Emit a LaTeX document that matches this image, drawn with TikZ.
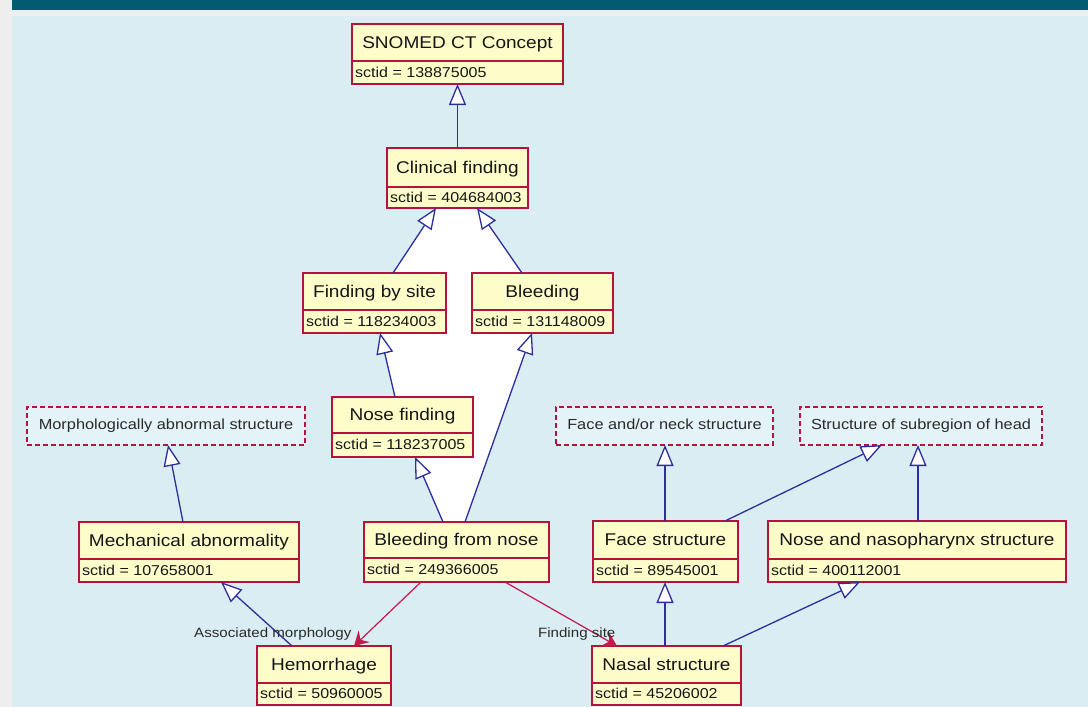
\documentclass[tikz,border=0pt]{standalone}
\usepackage{fontspec}
\setmainfont{Liberation Sans}[FakeStretch=1.12]
\usetikzlibrary{arrows.meta}

\definecolor{pagegray}{HTML}{EEEEEE}
\definecolor{barteal}{HTML}{035B71}
\definecolor{canvas}{HTML}{DAEDF3}
\definecolor{boxfill}{HTML}{FDFDC9}
\definecolor{boxred}{HTML}{B5123E}
\definecolor{absfill}{HTML}{E4F3F8}
\definecolor{genblue}{HTML}{2E2E9C}
\definecolor{assocred}{HTML}{C8184C}
\definecolor{txt}{HTML}{161616}
\definecolor{txtsoft}{HTML}{2A2A2A}

\tikzset{
  clsbox/.style={draw=boxred, fill=boxfill, line width=1.1pt, inner sep=0pt, outer sep=0pt},
  clsborder/.style={draw=boxred, line width=1.1pt},
  titletext/.style={font=\fontsize{17}{20}\selectfont, text=txt, inner sep=0pt,
    text height=0.72em, text depth=0pt},
  idtext/.style={font=\fontsize{14.3}{17}\selectfont, text=txt, inner sep=0pt,
    text height=0.72em, text depth=0pt},
  absbox/.style={draw=boxred, fill=absfill, dash pattern=on 5pt off 3pt, line width=1.1pt,
    inner sep=0pt, outer sep=0pt, font=\fontsize{14.6}{17}\selectfont, text=txtsoft,
    text height=0.72em, text depth=0pt},
  gen/.style={draw=genblue, line width=1.3pt,
    -{Triangle[length=21pt, width=17pt, fill=white, line join=miter]}},
  assoc/.style={draw=assocred, line width=1.2pt,
    -{Stealth[length=14pt, width=16pt, inset=5pt]}},
  rolelabel/.style={font=\fontsize{13.5}{16}\selectfont, text=txtsoft, inner sep=0pt,
    text height=0.72em, text depth=0.2em},
}

% class box with a name compartment and an sctid compartment
% #1 name, #2 left, #3 top, #4 right, #5 bottom, #6 divider, #7 title, #8 sctid
\newcommand\umlclass[8]{%
  \node[clsbox, minimum width={(#4-#2)*1pt}, minimum height={(#5-#3)*1pt}]
    (#1) at ({(#2+#4)/2},{(#3+#5)/2}) {};
  \draw[clsborder] (#2,#6) -- (#4,#6);
  \node[titletext] (#1-title) at ({(#2+#4)/2},{(#3+#6)/2+2}) {#7};
  \node[idtext, anchor=west] (#1-id) at ({#2+3},{(#6+#5)/2+1}) {#8};
}

% single-compartment dashed box
% #1 name, #2 left, #3 top, #4 right, #5 bottom, #6 text
\newcommand\umlref[6]{%
  \node[absbox, minimum width={(#4-#2)*1pt}, minimum height={(#5-#3)*1pt}]
    (#1) at ({(#2+#4)/2},{(#3+#5)/2}) {#6};
}

\begin{document}
\begin{tikzpicture}[x=1pt, y=-1pt]
\useasboundingbox (0,0) rectangle (1088,707);

% page, header bar and canvas
\fill[pagegray] (0,0) rectangle (1088,707);
\fill[barteal] (12,0) rectangle (1088,10);
\fill[canvas] (12,16) rectangle (1088,707);

% pale area enclosed by the finding hierarchy
\fill[white] (436,208) -- (393,273) -- (380,333) -- (395,397) -- (415,457)
  -- (443,522) -- (465,522) -- (532,333) -- (522,273) -- (477,208) -- cycle;

% concepts
\umlclass{snomed}{352}{24}{563}{84}{61}{SNOMED CT Concept}{sctid = 138875005}
\umlclass{cf}{387}{148}{528}{208}{187}{Clinical finding}{sctid = 404684003}
\umlclass{fbs}{303}{273}{446}{333}{310}{Finding by site}{sctid = 118234003}
\umlclass{bleed}{472}{273}{613}{333}{310}{Bleeding}{sctid = 131148009}
\umlclass{nf}{332}{397}{473}{457}{433}{Nose finding}{sctid = 118237005}
\umlclass{bfn}{364}{522}{549}{582}{558}{Bleeding from nose}{sctid = 249366005}
\umlclass{mech}{79}{522}{299}{582}{559}{Mechanical abnormality}{sctid = 107658001}
\umlclass{hem}{257}{646}{391}{705}{683}{Hemorrhage}{sctid = 50960005}
\umlclass{nasal}{592}{646}{741}{705}{683}{Nasal structure}{sctid = 45206002}
\umlclass{face}{593}{521}{738}{582}{559}{Face structure}{sctid = 89545001}
\umlclass{naso}{768}{521}{1066}{582}{559}{Nose and nasopharynx structure}{sctid = 400112001}

\umlref{morph}{27}{407}{305}{445}{Morphologically abnormal structure}
\umlref{faceneck}{556}{407}{773}{445}{Face and/or neck structure}
\umlref{subhead}{800}{407}{1042}{445}{Structure of subregion of head}

% is-a relations
\draw[gen] (cf.north) -- (snomed.south);
\draw[gen] ([xshift=90pt]fbs.north west) -- ([xshift=49pt]cf.south west);
\draw[gen] ([xshift=50pt]bleed.north west) -- ([xshift=90pt]cf.south west);
\draw[gen] ([xshift=63pt]nf.north west) -- ([xshift=77pt]fbs.south west);
\draw[gen] ([xshift=79pt]bfn.north west) -- ([xshift=83pt]nf.south west);
\draw[gen] ([xshift=101pt]bfn.north west) -- ([xshift=60pt]bleed.south west);
\draw[gen] ([xshift=104pt]mech.north west) -- ([xshift=141pt]morph.south west);
\draw[gen] ([xshift=35pt]hem.north west) -- ([xshift=142pt]mech.south west);
\draw[gen] ([xshift=72pt]face.north west) -- ([xshift=109pt]faceneck.south west);
\draw[gen] ([xshift=132pt]face.north west) -- ([xshift=82pt]subhead.south west);
\draw[gen] ([xshift=150pt]naso.north west) -- ([xshift=118pt]subhead.south west);
\draw[gen] ([xshift=73pt]nasal.north west) -- ([xshift=72pt]face.south west);
\draw[gen] ([xshift=131pt]nasal.north west) -- ([xshift=92pt]naso.south west);

% attribute relations
\draw[assoc] ([xshift=57pt]bfn.south west) -- ([xshift=97pt]hem.north west)
  node[rolelabel, at end, anchor=east, xshift=-2pt, yshift=11pt] (amlabel) {Associated morphology};
\draw[assoc] ([xshift=141pt]bfn.south west) -- ([xshift=25pt]nasal.north west)
  node[rolelabel, at end, anchor=east, xshift=-1pt, yshift=11pt] (fslabel) {Finding site};
\end{tikzpicture}
\end{document}
